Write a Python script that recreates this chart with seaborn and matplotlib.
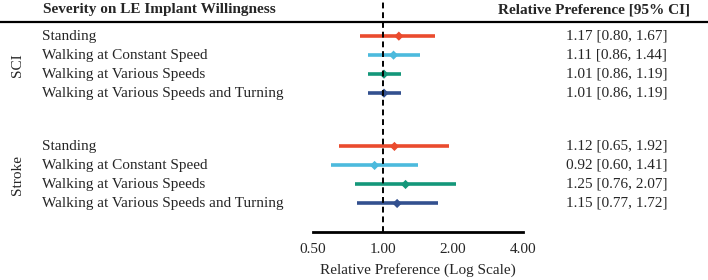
import matplotlib
matplotlib.use("Agg")
import matplotlib.pyplot as plt
import seaborn as sns
import pandas as pd
import numpy as np

groups = ["SCI", "Stroke"]
activities = ["Standing", "Walking at Constant Speed", "Walking at Various Speeds",
              "Walking at Various Speeds and Turning"]
sci_est = [1.17, 1.11, 1.01, 1.01]
sci_lo = [0.80, 0.86, 0.86, 0.86]
sci_hi = [1.67, 1.44, 1.19, 1.19]
stroke_est = [1.12, 0.92, 1.25, 1.15]
stroke_lo = [0.65, 0.60, 0.76, 0.77]
stroke_hi = [1.92, 1.41, 2.07, 1.72]
colors = ["#EA4B2E", "#4CBADD", "#14977A", "#33508F"]
xticks = [0.5, 1, 2, 4]

rows = []
for g, (est, lo, hi) in enumerate([(sci_est, sci_lo, sci_hi), (stroke_est, stroke_lo, stroke_hi)]):
    for i, act in enumerate(activities):
        rows.append(dict(group=groups[g], activity=act, est=est[i], lo=lo[i], hi=hi[i],
                         pos=i + g * 5.8))
df = pd.DataFrame(rows)

sns.set_style("white")
plt.rcParams["font.family"] = ["Liberation Serif", "DejaVu Serif"]

W, H = 708, 280
fig = plt.figure(figsize=(W / 100, H / 100), dpi=100)
ax = fig.add_axes([313 / W, 48 / H, 210 / W, 232 / H])

pal = dict(zip(activities, colors))
for _, r in df.iterrows():
    ax.hlines(r.pos, r.lo, r.hi, color=pal[r.activity], lw=2.6, zorder=2)
sns.scatterplot(data=df, x="est", y="pos", hue="activity", palette=pal, marker="D",
                s=22, edgecolor="none", legend=False, ax=ax, zorder=3)
ax.axvline(1, color="black", ls=(0, (3, 2)), lw=1.4, zorder=4)

ax.set_xscale("log", base=2)
ax.set_xlim(0.5, 4)
ax.set_ylim(10.3, -1.9)
ax.set_xticks(xticks)
ax.set_xticklabels([f"{t:.2f}" for t in xticks], fontsize=11)
ax.minorticks_off()
ax.set_yticks([])
ax.set_ylabel("")
ax.set_xlabel("Relative Preference (Log Scale)", fontsize=11, labelpad=5)
for s in ["top", "left", "right"]:
    ax.spines[s].set_visible(False)
ax.spines["bottom"].set_linewidth(2)
ax.spines["bottom"].set_color("black")
ax.tick_params(axis="x", direction="inout", length=6, width=2, color="black", pad=5)

blend = matplotlib.transforms.blended_transform_factory(fig.transFigure, ax.transData)
fx = lambda px: px / W
for _, r in df.iterrows():
    ax.text(fx(42), r.pos, r.activity, transform=blend,
            ha="left", va="center", fontsize=11, clip_on=False)
    ax.text(fx(667), r.pos, f"{r.est:.2f} [{r.lo:.2f}, {r.hi:.2f}]", transform=blend,
            ha="right", va="center", fontsize=11, clip_on=False)

for g in groups:
    sub = df[df.group == g]
    ax.text(fx(18), sub.pos.mean(), g, transform=blend,
            rotation=90, ha="center", va="center", fontsize=11, clip_on=False)

fig.text(fx(43), 1 - 10 / H, "Severity on LE Implant Willingness", ha="left", va="center",
         fontsize=11, fontweight="bold")
fig.text(fx(690), 1 - 10 / H, "Relative Preference [95% CI]", ha="right", va="center",
         fontsize=11, fontweight="bold")
fig.add_artist(plt.Line2D([0, 1], [1 - 22 / H, 1 - 22 / H], color="black", lw=1.6,
                          transform=fig.transFigure))

fig.savefig("out.png", dpi=100)
